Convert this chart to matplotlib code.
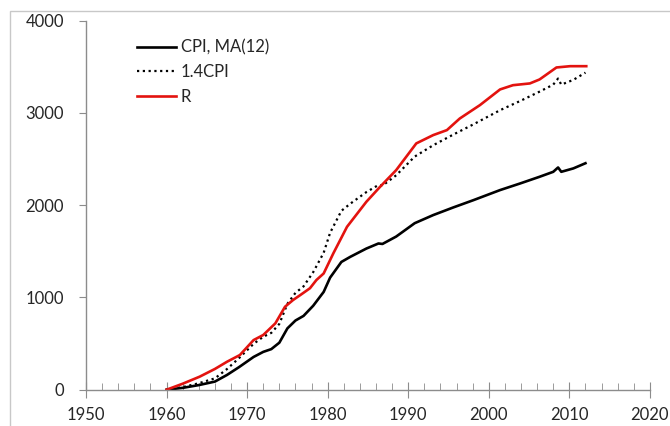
import matplotlib
matplotlib.use("Agg")
import matplotlib.pyplot as plt
from matplotlib.patches import Rectangle
from matplotlib.ticker import MultipleLocator

plt.rcParams["font.family"] = ["Lato", "DejaVu Sans"]

# values
years = [1960.0, 1962.0, 1964.0, 1966.0, 1967.5, 1969.0, 1970.8, 1972.0, 1973.0,
         1974.0, 1975.0, 1976.0, 1977.0, 1978.2, 1979.5, 1980.3, 1981.7, 1982.8,
         1984.8, 1986.3, 1986.8, 1988.5, 1990.8, 1993.1, 1995.6, 1998.1, 2001.4,
         2003.9, 2006.3, 2008.0, 2008.6, 2009.0, 2010.5, 2012.0]
cpi = [0, 20, 50, 88, 160, 245, 355, 410, 440,
       510, 665, 750, 800, 910, 1060, 1215, 1385, 1440,
       1530, 1585, 1580, 1660, 1805, 1893, 1976, 2055, 2164,
       2236, 2308, 2362, 2409, 2362, 2399, 2455]
cpi14 = [0, 28, 70, 123, 224, 343, 497, 574, 616,
         714, 931, 1050, 1120, 1274, 1484, 1701, 1939, 2016,
         2142, 2219, 2212, 2324, 2527, 2650, 2766, 2877, 3030,
         3130, 3231, 3307, 3373, 3307, 3359, 3437]

r_years = [1960.0, 1962.0, 1964.1, 1966.0, 1967.5, 1969.1, 1970.8, 1972.0, 1973.5,
           1974.7, 1975.7, 1976.6, 1977.8, 1978.6, 1979.5, 1980.7, 1982.4, 1984.8,
           1986.5, 1988.5, 1991.0, 1993.1, 1994.8, 1996.4, 1998.9, 2001.4, 2003.0,
           2005.1, 2006.3, 2008.4, 2010.1, 2012.1]
r_vals = [0, 65, 141, 225, 303, 376, 538, 593, 719,
          899, 972, 1026, 1100, 1189, 1260, 1478, 1766, 2037,
          2199, 2380, 2670, 2760, 2814, 2940, 3085, 3255, 3301,
          3320, 3363, 3493, 3507, 3507]

fig = plt.figure(figsize=(6.7, 4.26), dpi=100)
ax = fig.add_axes([0.1284, 0.0852, 0.8416, 0.8662])

fig.patches.append(Rectangle((10 / 670, -0.5), 2.0, 1.5 - 11 / 426,
                             transform=fig.transFigure, fill=False,
                             edgecolor="#c8c8c8", linewidth=1.0))

ax.plot(years, cpi, color="black", linewidth=1.9, label="CPI, MA(12)")
ax.plot(years, cpi14, color="black", linewidth=1.6, linestyle=(0, (1, 1.6)),
        label="1.4CPI")
ax.plot(r_years, r_vals, color="#e3130f", linewidth=1.9, label="R")

ax.set_xlim(1950, 2020)
ax.set_ylim(0, 4000)
ax.xaxis.set_major_locator(MultipleLocator(10))
ax.xaxis.set_minor_locator(MultipleLocator(2))
ax.yaxis.set_major_locator(MultipleLocator(1000))

for side in ["top", "right"]:
    ax.spines[side].set_visible(False)
for side in ["left", "bottom"]:
    ax.spines[side].set_color("#8c8c8c")
    ax.spines[side].set_linewidth(1.0)

ax.tick_params(axis="x", which="major", direction="inout", length=11,
               color="#8c8c8c", labelsize=12, labelcolor="#262626", pad=7)
ax.tick_params(axis="x", which="minor", direction="in", length=5,
               color="#8c8c8c")
ax.tick_params(axis="y", direction="out", length=5, color="#8c8c8c",
               labelsize=12, labelcolor="#262626", pad=11)

ax.legend(loc="upper left", bbox_to_anchor=(0.1825, 0.943),
          bbox_transform=fig.transFigure, frameon=False, fontsize=12,
          handlelength=2.3, handletextpad=0.3, labelspacing=0.53,
          labelcolor="#262626")

fig.savefig("out.png", dpi=100)
